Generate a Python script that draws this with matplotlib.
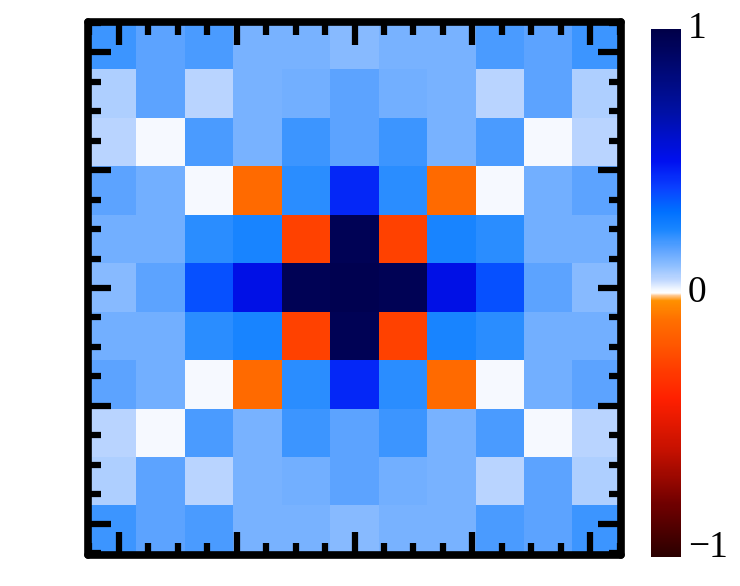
import numpy as np
import matplotlib
matplotlib.use("Agg")
import matplotlib.pyplot as plt
from matplotlib.colors import LinearSegmentedColormap
from matplotlib.ticker import MultipleLocator

# ---- data (11 x 11 grid, top row first) ----
row0 = [0.20, 0.165, 0.185, 0.13, 0.13, 0.11, 0.13, 0.13, 0.185, 0.165, 0.20]
row1 = [0.07, 0.165, 0.055, 0.13, 0.14, 0.165, 0.14, 0.13, 0.055, 0.165, 0.07]
row2 = [0.055, 0.01, 0.185, 0.13, 0.20, 0.165, 0.20, 0.13, 0.185, 0.01, 0.055]
row3 = [0.165, 0.14, 0.01, -0.12, 0.22, 0.45, 0.22, -0.12, 0.01, 0.14, 0.165]
row4 = [0.14, 0.14, 0.22, 0.245, -0.27, 0.95, -0.27, 0.245, 0.22, 0.14, 0.14]
row5 = [0.11, 0.165, 0.37, 0.52, 0.95, 0.97, 0.95, 0.52, 0.37, 0.165, 0.11]
row6 = [0.14, 0.14, 0.22, 0.245, -0.27, 0.95, -0.27, 0.245, 0.22, 0.14, 0.14]
row7 = [0.165, 0.14, 0.01, -0.12, 0.22, 0.45, 0.22, -0.12, 0.01, 0.14, 0.165]
row8 = [0.055, 0.01, 0.185, 0.13, 0.20, 0.165, 0.20, 0.13, 0.185, 0.01, 0.055]
row9 = [0.07, 0.165, 0.055, 0.13, 0.14, 0.165, 0.14, 0.13, 0.055, 0.165, 0.07]
row10 = [0.20, 0.165, 0.185, 0.13, 0.13, 0.11, 0.13, 0.13, 0.185, 0.165, 0.20]
grid_rows = [row0, row1, row2, row3, row4, row5, row6, row7, row8, row9, row10]

cbar_ticks = [-1, 0, 1]
cbar_labels = ["\u22121", "0", "1"]
vmin, vmax = -1, 1

# ---- colormap ----
nodes = [
    (-1.00, "#2a0000"),
    (-0.80, "#700000"),
    (-0.60, "#c41000"),
    (-0.40, "#ff2000"),
    (-0.30, "#ff3a00"),
    (-0.20, "#ff5600"),
    (-0.10, "#ff7000"),
    (-0.03, "#ff9000"),
    (-0.01, "#ffc890"),
    (0.00, "#ffffff"),
    (0.015, "#f2f7ff"),
    (0.05, "#c0d8ff"),
    (0.10, "#90c0ff"),
    (0.16, "#62a6ff"),
    (0.24, "#1a86ff"),
    (0.31, "#0070ff"),
    (0.40, "#0a40ff"),
    (0.50, "#0010f0"),
    (0.70, "#0010a0"),
    (1.00, "#000048"),
]
cmap = LinearSegmentedColormap.from_list(
    "bwo", [((v - vmin) / (vmax - vmin), c) for v, c in nodes], N=512)

data = np.array(grid_rows)

fig = plt.figure(figsize=(7.40, 5.86), dpi=100)
ax = fig.add_axes([88 / 740, (586 - 554.5) / 586, 533 / 740, 533 / 586])
ext = 2.26
im = ax.imshow(data, cmap=cmap, vmin=vmin, vmax=vmax, interpolation="nearest",
               extent=[-ext, ext, -ext, ext], aspect="auto")

ax.xaxis.set_major_locator(MultipleLocator(1))
ax.yaxis.set_major_locator(MultipleLocator(1))
ax.xaxis.set_minor_locator(MultipleLocator(0.25))
ax.yaxis.set_minor_locator(MultipleLocator(0.25))
ax.tick_params(which="both", direction="in", top=True, bottom=True, left=True, right=True,
               labelbottom=False, labelleft=False, color="black")
ax.tick_params(which="major", length=16.5, width=4.5)
ax.tick_params(which="minor", length=9, width=4.5)
for s in ax.spines.values():
    s.set_linewidth(5.5)
    s.set_color("black")
    s.set_capstyle("round")

cax = fig.add_axes([651 / 740, (586 - 557) / 586, 30 / 740, 528 / 586])
cb = fig.colorbar(im, cax=cax, ticks=cbar_ticks)
cb.outline.set_visible(False)
cax.set_yticklabels(cbar_labels, fontsize=27)
cax.tick_params(length=0, pad=5)
labs = cax.get_yticklabels()
for lab in labs:
    lab.set_fontfamily(["Liberation Serif", "DejaVu Serif"])
labs[0].set_va("baseline")
labs[1].set_va("center")
labs[2].set_va("center")

fig.savefig("out.png", dpi=100)
